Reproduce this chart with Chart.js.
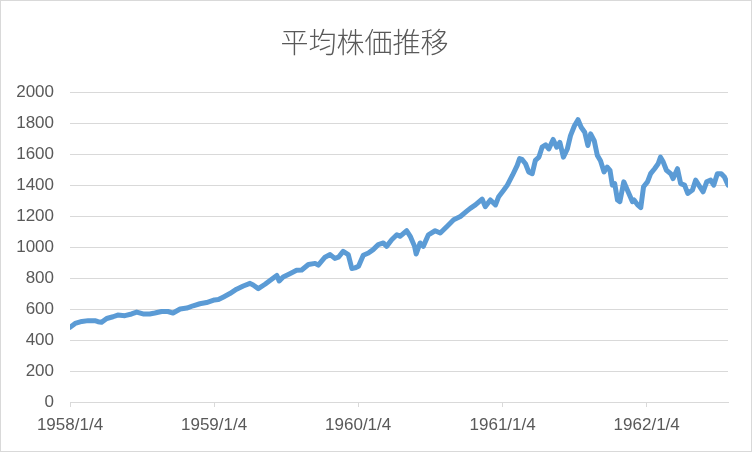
<!DOCTYPE html>
<html>
<head>
<meta charset="utf-8">
<script src="https://cdn.jsdelivr.net/npm/chart.js@4"></script>
<style>
  html, body { margin: 0; padding: 0; background: #fff; }
  #wrap { width: 750px; height: 450px; border: 1px solid #d9d9d9; }
</style>
</head>
<body>
<div id="wrap"><canvas id="priceChart" width="750" height="450"></canvas></div>
<script>
// 日付（取引日の抜粋）と平均株価
var dates = [
  "1958/1/4", "1958/1/17", "1958/2/3", "1958/2/19", "1958/3/8", "1958/3/16", "1958/3/25",
  "1958/4/7", "1958/4/23", "1958/5/5", "1958/5/23", "1958/6/9", "1958/6/22", "1958/7/8",
  "1958/7/25", "1958/8/7", "1958/8/24", "1958/9/9", "1958/9/22", "1958/10/10", "1958/10/27",
  "1958/11/12", "1958/11/29", "1958/12/16", "1959/1/5", "1959/1/15", "1959/1/28", "1959/2/13",
  "1959/3/2", "1959/3/19", "1959/4/5", "1959/4/13", "1959/4/26", "1959/5/13", "1959/5/30",
  "1959/6/12", "1959/6/18", "1959/6/28", "1959/7/15", "1959/8/1", "1959/8/14", "1959/8/31",
  "1959/9/17", "1959/9/25", "1959/10/12", "1959/10/25", "1959/11/6", "1959/11/15", "1959/11/27",
  "1959/12/10", "1959/12/19", "1959/12/27", "1960/1/5", "1960/1/17", "1960/1/30", "1960/2/11",
  "1960/2/24", "1960/3/8", "1960/3/16", "1960/3/29", "1960/4/11", "1960/4/19", "1960/5/6",
  "1960/5/15", "1960/5/26", "1960/5/30", "1960/6/9", "1960/6/17", "1960/6/30", "1960/7/17",
  "1960/7/30", "1960/8/16", "1960/9/2", "1960/9/19", "1960/10/6", "1960/10/14", "1960/10/27",
  "1960/11/13", "1960/11/21", "1960/12/4", "1960/12/17", "1960/12/25", "1961/1/7", "1961/1/16",
  "1961/1/29", "1961/2/10", "1961/2/16", "1961/2/22", "1961/3/3", "1961/3/11", "1961/3/20",
  "1961/3/28", "1961/4/6", "1961/4/14", "1961/4/23", "1961/5/1", "1961/5/12", "1961/5/21",
  "1961/5/29", "1961/6/7", "1961/6/17", "1961/6/25", "1961/7/5", "1961/7/14", "1961/7/22",
  "1961/7/31", "1961/8/8", "1961/8/15", "1961/8/24", "1961/9/1", "1961/9/9", "1961/9/18",
  "1961/9/26", "1961/10/3", "1961/10/9", "1961/10/15", "1961/10/22", "1961/10/28", "1961/11/7",
  "1961/11/16", "1961/11/29", "1961/12/3", "1961/12/12", "1961/12/20", "1961/12/27", "1962/1/6",
  "1962/1/14", "1962/1/24", "1962/2/2", "1962/2/8", "1962/2/15", "1962/2/23", "1962/3/6",
  "1962/3/12", "1962/3/23", "1962/3/31", "1962/4/10", "1962/4/18", "1962/4/30", "1962/5/8",
  "1962/5/16", "1962/5/27", "1962/6/5", "1962/6/15", "1962/6/23", "1962/7/2", "1962/7/12",
  "1962/7/20", "1962/7/29"
];
var prices = [
  483, 508, 521, 526, 526, 519, 515,
  540, 551, 562, 558, 569, 581, 569,
  569, 575, 585, 585, 575, 601, 607,
  622, 635, 643, 660, 662, 679, 701,
  729, 750, 767, 756, 733, 761, 793,
  818, 782, 808, 829, 851, 853, 889,
  896, 885, 936, 953, 928, 936, 974,
  953, 863, 867, 878, 949, 963, 985,
  1017, 1028, 1006, 1049, 1081, 1071, 1107,
  1071, 1006, 957, 1028, 1006, 1081, 1107,
  1092, 1135, 1178, 1199, 1235, 1252, 1274,
  1312, 1263, 1306, 1274, 1327, 1370, 1402,
  1466, 1530, 1573, 1568, 1540, 1487, 1476,
  1562, 1583, 1647, 1662, 1636, 1697, 1647,
  1679, 1583, 1636, 1722, 1786, 1825, 1776,
  1744, 1658, 1733, 1690, 1594, 1560, 1487,
  1519, 1498, 1402, 1412, 1306, 1295, 1423,
  1370, 1295, 1306, 1274, 1256, 1391, 1423,
  1476, 1508, 1540, 1583, 1551, 1498, 1476,
  1444, 1508, 1412, 1402, 1348, 1370, 1434,
  1402, 1359, 1423, 1434, 1402, 1476, 1476,
  1455, 1402
];
var xTickLabels = ["1958/1/4", "1959/1/4", "1960/1/4", "1961/1/4", "1962/1/4"];

var baseDay = Date.UTC(1958, 0, 4);
function dayOffset(s) {
  var p = s.split("/").map(Number);
  return (Date.UTC(p[0], p[1] - 1, p[2]) - baseDay) / 86400000;
}

var points = dates.map(function (d, i) {
  return { x: dayOffset(d), y: prices[i] };
});

var labelFont = { family: "'Liberation Sans', Arial, sans-serif", size: 17 };

var priceCtx = document.getElementById("priceChart").getContext("2d");
var priceChart = new Chart(priceCtx, {
  type: "line",
  data: {
    datasets: [
      {
        label: "平均株価",
        data: points,
        borderColor: "#5b9bd5",
        borderWidth: 5,
        borderJoinStyle: "round",
        borderCapStyle: "round",
        pointRadius: 0,
        tension: 0,
        fill: false,
      },
    ],
  },
  options: {
    responsive: false,
    animation: false,
    layout: { padding: { left: 0, right: 23, top: 0, bottom: 0 } },
    plugins: {
      legend: { display: false },
      tooltip: { enabled: false },
      title: {
        display: true,
        text: "平均株価推移",
        color: "#595959",
        font: { family: "'Noto Sans CJK JP', sans-serif", size: 28, weight: "300" },
        padding: { top: 25, bottom: 33 },
      },
    },
    scales: {
      x: {
        type: "linear",
        min: 0,
        max: dayOffset(dates[dates.length - 1]),
        afterBuildTicks: function (scale) {
          scale.ticks = xTickLabels.map(function (l) {
            return { value: dayOffset(l) };
          });
        },
        afterFit: function (scale) {
          scale.height = 49;
        },
        ticks: {
          color: "#595959",
          font: labelFont,
          padding: 8,
          maxRotation: 0,
          autoSkip: false,
          callback: function (value) {
            for (var i = 0; i < xTickLabels.length; i++) {
              if (dayOffset(xTickLabels[i]) === value) return xTickLabels[i];
            }
            return "";
          },
        },
        grid: {
          drawOnChartArea: false,
          drawTicks: true,
          tickLength: 5,
          color: "#d9d9d9",
        },
        border: { display: true, color: "#d9d9d9" },
      },
      y: {
        min: 0,
        max: 2000,
        afterFit: function (scale) {
          scale.width = 69;
        },
        ticks: {
          stepSize: 200,
          color: "#595959",
          font: labelFont,
          padding: 16,
          callback: function (value) {
            return String(value);
          },
        },
        grid: { color: "#d9d9d9", drawTicks: false },
        border: { display: false },
      },
    },
  },
});
</script>
</body>
</html>
